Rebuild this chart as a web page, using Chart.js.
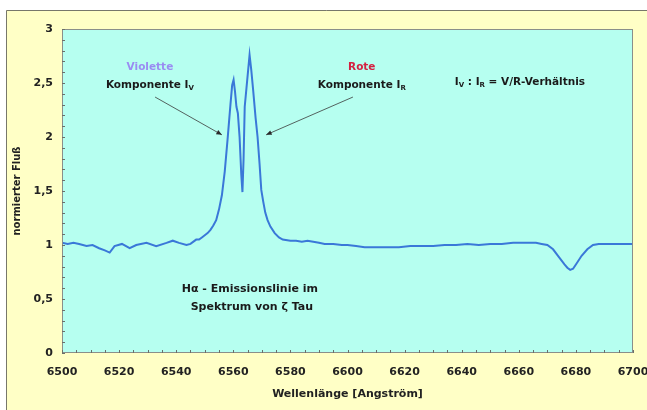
<!DOCTYPE html>
<html>
<head>
<meta charset="utf-8">
<script src="https://cdn.jsdelivr.net/npm/chart.js@4/dist/chart.umd.min.js"></script>
<style>
  html, body { margin: 0; padding: 0; background: #ffffff; }
  #wrap { width: 647px; height: 410px; }
</style>
</head>
<body>
<div id="wrap"><canvas id="chart" width="647" height="410"></canvas></div>
<script>
const wavelengths = [
  6500, 6502, 6504, 6506, 6508.6, 6510.7, 6513, 6515, 6516.7, 6518.4, 6521, 6523.7, 6526,
  6529.6, 6533, 6536.6, 6538.8, 6541, 6543.6, 6545, 6547, 6548, 6549, 6550, 6551, 6552,
  6553, 6554, 6555, 6556, 6557, 6558, 6559, 6559.6, 6560.1, 6560.6, 6561.1, 6561.6, 6562.2,
  6562.8, 6563.2, 6563.6, 6564, 6564.6, 6565.2, 6565.7, 6566.3, 6567, 6567.8, 6568.5,
  6569.2, 6569.8, 6570.5, 6571.2, 6572, 6573, 6574.5, 6576, 6577.3, 6580, 6582, 6584,
  6586, 6588, 6590, 6592, 6595, 6598, 6600, 6603, 6606, 6610, 6614, 6618, 6622, 6626,
  6630, 6634, 6638, 6642, 6646, 6650, 6654, 6658, 6662, 6666, 6668, 6670, 6672, 6674,
  6676, 6677, 6678, 6679, 6680, 6682, 6684, 6686, 6688, 6692, 6696, 6700
];
// normierter Fluß
const flux = [
  1.02, 1.01, 1.02, 1.01, 0.99, 1.00, 0.97, 0.95, 0.93, 0.99, 1.01, 0.97, 1.00,
  1.02, 0.99, 1.02, 1.04, 1.02, 1.00, 1.01, 1.05, 1.05, 1.07, 1.09, 1.11, 1.14,
  1.18, 1.23, 1.33, 1.46, 1.68, 1.98, 2.30, 2.48, 2.53, 2.42, 2.28, 2.22, 2.00,
  1.65, 1.49, 1.80, 2.28, 2.45, 2.62, 2.76, 2.62, 2.42, 2.18, 2.00,
  1.75, 1.51, 1.40, 1.30, 1.23, 1.17, 1.11, 1.07, 1.05, 1.04, 1.04, 1.03,
  1.04, 1.03, 1.02, 1.01, 1.01, 1.00, 1.00, 0.99, 0.98, 0.98, 0.98, 0.98, 0.99, 0.99,
  0.99, 1.00, 1.00, 1.01, 1.00, 1.01, 1.01, 1.02, 1.02, 1.02, 1.01, 1.00, 0.96, 0.89,
  0.82, 0.79, 0.77, 0.78, 0.82, 0.90, 0.96, 1.00, 1.01, 1.01, 1.01, 1.01
];
const xTickValues = [6500, 6520, 6540, 6560, 6580, 6600, 6620, 6640, 6660, 6680, 6700];
const yTickValues = [0, 0.5, 1, 1.5, 2, 2.5, 3];

const FONT = '"DejaVu Sans", Verdana, sans-serif';

// Beschriftungen im Diagramm (Position in Datenkoordinaten)
const labels = [
  { parts: [['Violette', false]], x: 6530.8, y: 2.65, color: '#9a8cf2', size: 10.5 },
  { parts: [['Komponente I', false], ['V', true]], x: 6530.8, y: 2.48, color: '#1a1a1a', size: 10.5 },
  { parts: [['Rote', false]], x: 6605, y: 2.65, color: '#d42040', size: 10.5 },
  { parts: [['Komponente I', false], ['R', true]], x: 6605, y: 2.48, color: '#1a1a1a', size: 10.5 },
  { parts: [['I', false], ['V', true], [' : I', false], ['R', true], [' = V/R-Verhältnis', false]], x: 6660.4, y: 2.51, color: '#1a1a1a', size: 10.5 },
  { parts: [['Hα - Emissionslinie im', false]], x: 6565.8, y: 0.59, color: '#1a1a1a', size: 11 },
  { parts: [['Spektrum von ζ Tau', false]], x: 6566.5, y: 0.42, color: '#1a1a1a', size: 11 }
];
const arrows = [
  { from: [6532.6, 2.37], to: [6556, 2.02] },
  { from: [6601.9, 2.37], to: [6571.5, 2.02] }
];

function drawRich(ctx, parts, cx, cy, size, color) {
  const main = 'bold ' + size + 'px ' + FONT;
  const small = 'bold ' + Math.round(size * 0.7) + 'px ' + FONT;
  let total = 0;
  parts.forEach(p => { ctx.font = p[1] ? small : main; total += ctx.measureText(p[0]).width; });
  let x = cx - total / 2;
  ctx.fillStyle = color;
  ctx.textBaseline = 'middle';
  ctx.textAlign = 'left';
  parts.forEach(p => {
    ctx.font = p[1] ? small : main;
    ctx.fillText(p[0], x, p[1] ? cy + size * 0.3 : cy);
    x += ctx.measureText(p[0]).width;
  });
}

const decor = {
  id: 'decor',
  beforeDraw(chart) {
    const ctx = chart.ctx;
    const a = chart.chartArea;
    ctx.save();
    ctx.fillStyle = '#ffffc6';
    ctx.fillRect(6, 10, chart.width - 6, chart.height - 10);
    ctx.strokeStyle = '#77776a';
    ctx.lineWidth = 1;
    ctx.beginPath();
    ctx.moveTo(6.5, chart.height);
    ctx.lineTo(6.5, 10.5);
    ctx.lineTo(chart.width, 10.5);
    ctx.stroke();
    ctx.fillStyle = '#b6fff0';
    ctx.fillRect(a.left, a.top, a.right - a.left, a.bottom - a.top);
    ctx.restore();
  },
  afterDraw(chart) {
    const ctx = chart.ctx;
    const a = chart.chartArea;
    const xs = chart.scales.x, ys = chart.scales.y;
    ctx.save();
    // Rahmen der Zeichenfläche
    ctx.strokeStyle = '#8a8f8a';
    ctx.lineWidth = 1;
    ctx.strokeRect(a.left + 0.5, a.top + 0.5, a.right - a.left - 1, a.bottom - a.top - 1);
    // kleine Teilstriche nach innen
    ctx.strokeStyle = '#6a6f6a';
    ctx.beginPath();
    for (let v = 0; v <= 30; v++) {
      const py = Math.round(ys.getPixelForValue(v / 10)) + 0.5;
      ctx.moveTo(a.left, py);
      ctx.lineTo(a.left + 3, py);
    }
    for (let w = 6500; w <= 6700; w += 5) {
      const px = Math.round(xs.getPixelForValue(w)) + 0.5;
      ctx.moveTo(px, a.bottom);
      ctx.lineTo(px, a.bottom - 3);
    }
    ctx.stroke();
    // Pfeile
    ctx.strokeStyle = '#3a3a3a';
    ctx.fillStyle = '#2a2a2a';
    ctx.lineWidth = 0.8;
    arrows.forEach(ar => {
      const x1 = xs.getPixelForValue(ar.from[0]), y1 = ys.getPixelForValue(ar.from[1]);
      const x2 = xs.getPixelForValue(ar.to[0]), y2 = ys.getPixelForValue(ar.to[1]);
      const ang = Math.atan2(y2 - y1, x2 - x1);
      ctx.beginPath();
      ctx.moveTo(x1, y1);
      ctx.lineTo(x2, y2);
      ctx.stroke();
      ctx.beginPath();
      ctx.moveTo(x2, y2);
      ctx.lineTo(x2 - 6 * Math.cos(ang - 0.4), y2 - 6 * Math.sin(ang - 0.4));
      ctx.lineTo(x2 - 6 * Math.cos(ang + 0.4), y2 - 6 * Math.sin(ang + 0.4));
      ctx.closePath();
      ctx.fill();
    });
    // Texte
    labels.forEach(l => {
      drawRich(ctx, l.parts, xs.getPixelForValue(l.x), ys.getPixelForValue(l.y), l.size, l.color);
    });
    ctx.restore();
  }
};

const points = wavelengths.map((w, i) => ({ x: w, y: flux[i] }));

new Chart(document.getElementById('chart'), {
  type: 'line',
  data: {
    datasets: [{
      data: points,
      borderColor: '#3a78d8',
      borderWidth: 2,
      pointRadius: 0,
      tension: 0,
      fill: false
    }]
  },
  options: {
    responsive: false,
    animation: false,
    layout: { padding: { left: 8, right: 14, top: 29, bottom: 0 } },
    plugins: { legend: { display: false }, tooltip: { enabled: false } },
    scales: {
      x: {
        type: 'linear',
        min: 6500,
        max: 6700,
        afterBuildTicks: s => { s.ticks = xTickValues.map(v => ({ value: v })); },
        afterFit: s => { s.height = 57; s.paddingLeft = 0; s.paddingRight = 0; },
        grid: { display: false, drawTicks: false },
        border: { display: false },
        ticks: {
          padding: 13,
          color: '#222',
          font: { family: FONT, size: 11, weight: 'bold' },
          maxRotation: 0,
          callback: v => String(v)
        },
        title: {
          display: true,
          text: 'Wellenlänge [Angström]',
          color: '#222',
          font: { family: FONT, size: 11, weight: 'bold' },
          padding: { top: 0, bottom: 9 }
        }
      },
      y: {
        min: 0,
        max: 3,
        afterBuildTicks: s => { s.ticks = yTickValues.map(v => ({ value: v })); },
        afterFit: s => { s.width = 54; s.paddingTop = 0; s.paddingBottom = 0; },
        grid: { display: false, drawTicks: false },
        border: { display: false },
        ticks: {
          padding: 9,
          color: '#222',
          font: { family: FONT, size: 11, weight: 'bold' },
          callback: v => String(v).replace('.', ',')
        },
        title: {
          display: true,
          text: 'normierter Fluß',
          color: '#222',
          font: { family: FONT, size: 10, weight: 'bold' },
          padding: { top: 3, bottom: 0 }
        }
      }
    }
  },
  plugins: [decor]
});
</script>
</body>
</html>
